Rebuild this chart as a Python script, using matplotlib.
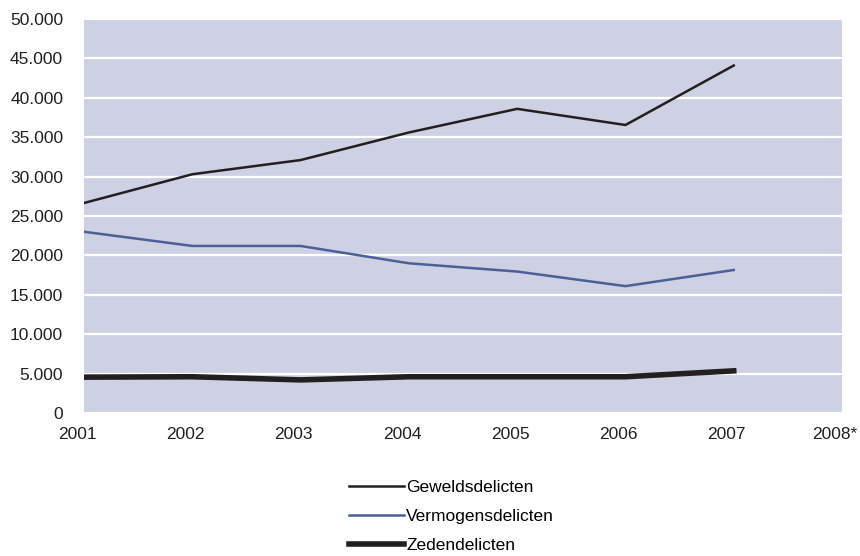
import matplotlib.pyplot as plt
from matplotlib.ticker import FuncFormatter
from matplotlib.transforms import ScaledTranslation

plt.rcParams['font.family'] = ['Liberation Sans', 'DejaVu Sans']

jaren = ['2001', '2002', '2003', '2004', '2005', '2006', '2007', '2008*']
geweld = [26650, 30300, 32100, 35600, 38600, 36550, 44100]
vermogen = [23000, 21200, 21200, 19000, 17950, 16100, 18150]
zeden = [4550, 4600, 4200, 4600, 4600, 4600, 5350]

fig = plt.figure(figsize=(8.6, 5.56), dpi=100)
ax = fig.add_axes([0.0977, 0.2572, 0.8814, 0.7086])
ax.set_facecolor('#cdd1e3')

x = list(range(len(geweld)))
ax.plot(x, geweld, color='#231f20', lw=1.8, label='Geweldsdelicten')
ax.plot(x, vermogen, color='#4d5f98', lw=1.8, label='Vermogensdelicten')
ax.plot(x, zeden, color='#231f20', lw=4, label='Zedendelicten')

ax.set_xlim(0, len(jaren) - 1)
ax.set_ylim(0, 50000)
ax.set_xticks(range(len(jaren)))
ax.set_xticklabels(jaren)
ax.set_yticks(range(0, 50001, 5000))
ax.yaxis.set_major_formatter(FuncFormatter(lambda v, p: f'{int(v):,}'.replace(',', '.')))
ax.tick_params(length=0, labelsize=12.5, colors='#231f20')
ax.tick_params(axis='y', pad=15)
ax.tick_params(axis='x', pad=10)
ax.grid(axis='y', color='white', lw=1.6)
ax.set_axisbelow(True)
for s in ax.spines.values():
    s.set_visible(False)

# labels staan iets links van de punten
shift = ScaledTranslation(-7 / 100, 0, fig.dpi_scale_trans)
for lbl in ax.get_xticklabels():
    lbl.set_transform(lbl.get_transform() + shift)

fig.legend(loc='upper center', bbox_to_anchor=(0.525, 0.152), frameon=False,
           fontsize=12.5, handlelength=3.2, handletextpad=0.1, labelspacing=0.8,
           borderpad=0)

fig.savefig('out.png', dpi=100)
